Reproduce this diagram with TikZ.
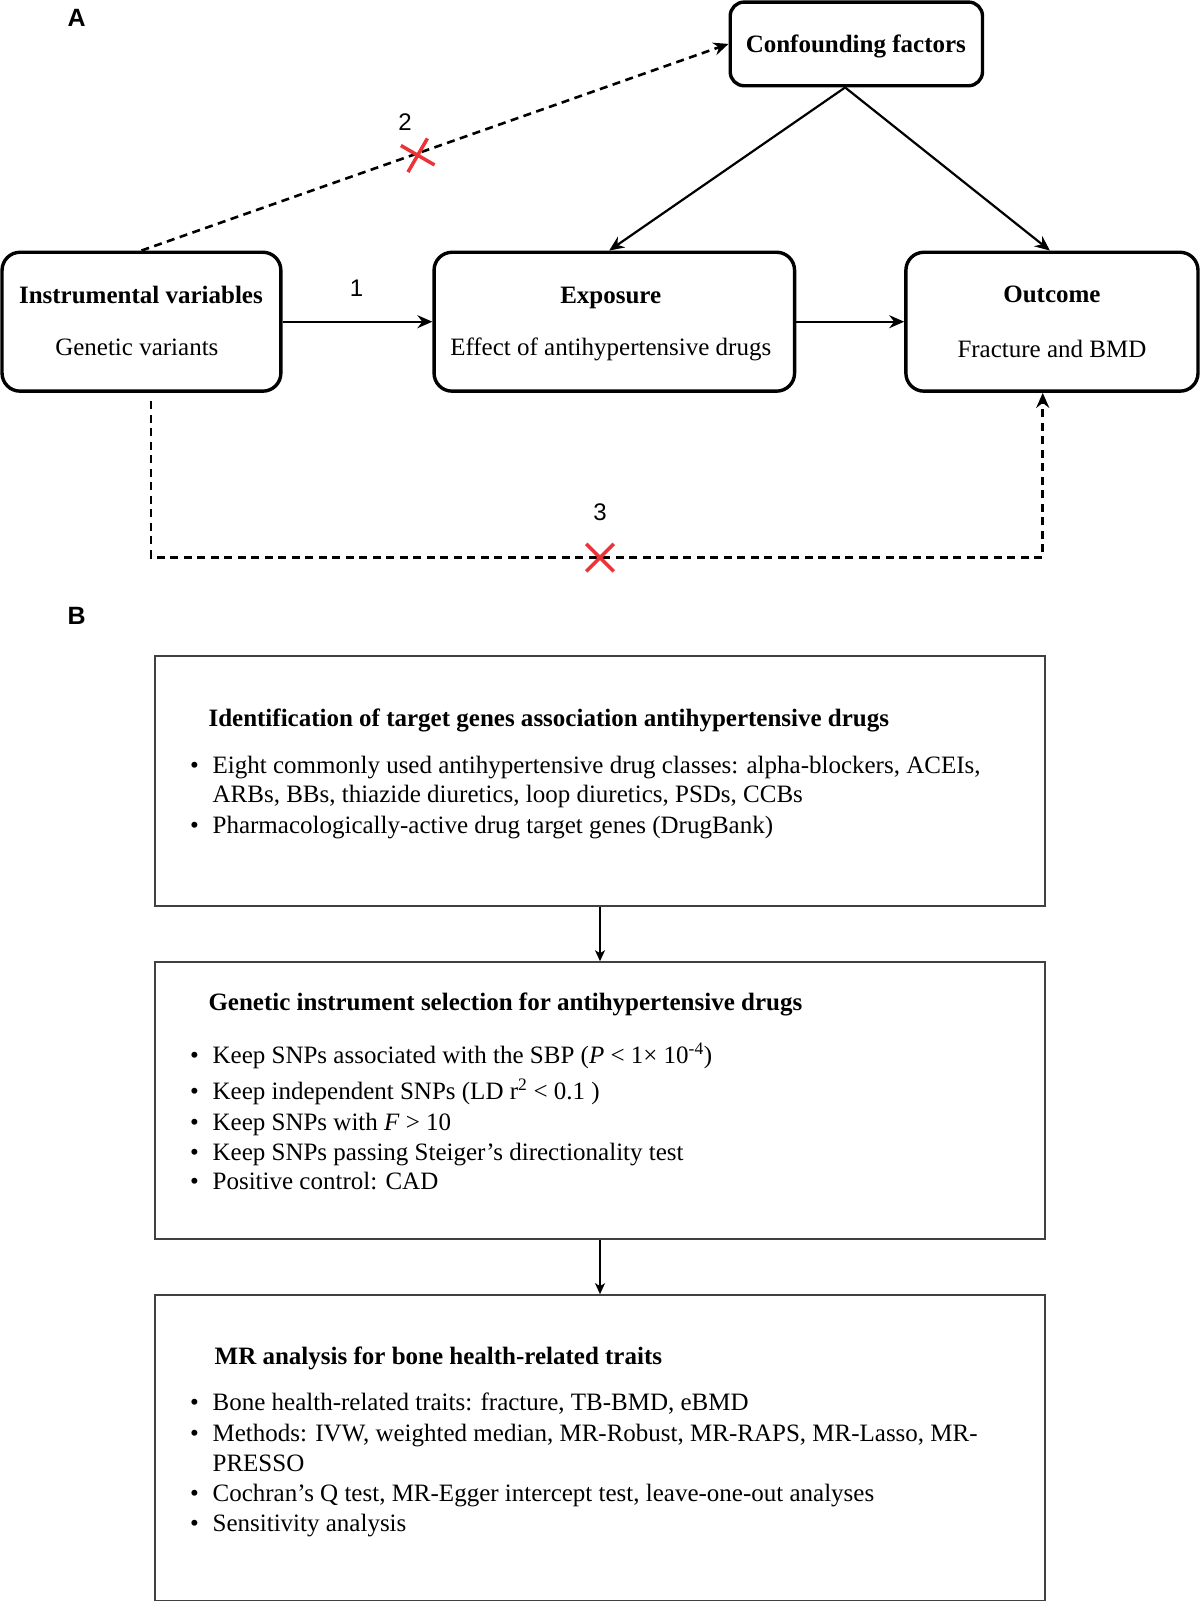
\documentclass[tikz,border=0pt]{standalone}
\usepackage{fontspec}
\setmainfont{Liberation Serif}
\newfontfamily\arialf{Liberation Sans}
\usetikzlibrary{arrows.meta,calc,shapes.misc}
\definecolor{xred}{RGB}{236,52,56}
\begin{document}
\begin{tikzpicture}[x=1.02128pt,y=-1.02128pt,
 rbox/.style={draw, line width=3.4pt, rounded corners=18pt, fill=white, inner sep=0pt},
 fbox/.style={draw=black!75, line width=1.7pt, inner sep=0pt},
 conn/.style={line width=2.2pt, -{Stealth[length=15pt,width=13pt,inset=5pt]}},
 dconn/.style={conn, line width=2.6pt, dash pattern=on 8pt off 5.5pt},
 thinarr/.style={line width=1.3pt, -{Stealth[length=11pt,width=10pt,inset=3pt]}},
 cross/.style={cross out, draw=xred, line width=3.5pt, minimum width=24pt, minimum height=24pt, inner sep=0pt},
 lbl/.style={font=\arialf\bfseries\fontsize{25}{29}\selectfont, anchor=base, inner sep=0pt},
 num/.style={font=\arialf\fontsize{24}{28}\selectfont, anchor=base, inner sep=0pt},
 tx/.style={font=\fontsize{25}{30}\selectfont, inner sep=0pt, anchor=base},
 btx/.style={tx, font=\fontsize{25}{30}\selectfont\bfseries},
 ltx/.style={tx, anchor=base west},
 lbtx/.style={btx, anchor=base west},
 ]
\useasboundingbox (0,0) rectangle (1175,1568.6);

% ---------- Part A ----------
\node[lbl] (lA) at (75,26) {A};

\node[rbox, minimum width=278.8pt, minimum height=138.9pt] (iv) at (138.5,315) {};
\node[rbox, minimum width=360.5pt, minimum height=138.9pt] (ex) at (601.5,315) {};
\node[rbox, minimum width=292.1pt, minimum height=138.9pt] (out) at (1030,315) {};
\node[rbox, minimum width=252.3pt, minimum height=83.7pt, rounded corners=14pt] (cf) at (838.5,43) {};

\node[btx] (ivt) at (138,297) {Instrumental variables};
\node[tx] (ivs) at (134,348) {Genetic variants};
\node[btx] (ext) at (598,297) {Exposure};
\node[tx] (exs) at (598,348) {Effect of antihypertensive drugs};
\node[btx] (outt) at (1030,296) {Outcome};
\node[tx] (outs) at (1030,350) {Fracture and BMD};
\node[btx] (cft) at (838,51) {Confounding factors};

\draw[conn] (iv.east) -- (ex.west);
\draw[conn] (ex.east) -- (out.west);
\draw[conn] ($(cf.south)+(-11,0)$) -- ($(ex.north)+(-5,0)$);
\draw[conn] ($(cf.south)+(-11,0)$) -- ($(out.north)+(-2,0)$);
\node[num] (n1) at (349,290) {1};

\draw[dconn] (iv.north) -- (cf.west);
\node[cross, rotate=15] (x2) at (409,152) {};
\node[num] (n2) at (396.5,128) {2};

\coordinate (c3s) at (148,393);
\coordinate (c3m) at (587.5,546);
\draw[dconn] (c3s) |- (c3m) -| ($(out.south)+(-9,0)$);
\node[cross] (x3) at (587.5,546) {};
\node[num] (n3) at (587.5,509.5) {3};

% ---------- Part B ----------
\node[lbl] (lB) at (75,611) {B};

\node[fbox, minimum width=889.5pt, minimum height=250.2pt] (b1) at (587.5,764.5) {};
\node[fbox, minimum width=889.5pt, minimum height=276.8pt] (b2) at (587.5,1077.5) {};
\node[fbox, minimum width=889.5pt, minimum height=305.4pt] (b3) at (587.5,1417.5) {};

\draw[thinarr] (b1.south) -- (b2.north);
\draw[thinarr] (b2.south) -- (b3.north);

% box 1
\node[lbtx] (t1) at (204,711) {Identification of target genes association antihypertensive drugs};
\node[ltx] (d11) at (186,757) {•};
\node[ltx] (i11) at (208,757) {Eight commonly used antihypertensive drug classes: alpha-blockers, ACEIs,};
\node[ltx] (i11b) at (208,786) {ARBs, BBs, thiazide diuretics, loop diuretics, PSDs, CCBs};
\node[ltx] (d12) at (186,816) {•};
\node[ltx] (i12) at (208,816) {Pharmacologically-active drug target genes (DrugBank)};

% box 2
\node[lbtx] (t2) at (204,989) {Genetic instrument selection for antihypertensive drugs};
\node[ltx] (d21) at (186,1041) {•};
\node[ltx] (i21) at (208,1041) {Keep SNPs associated with the SBP (\textit{P} < 1× 10\textsuperscript{-4})};
\node[ltx] (d22) at (186,1077) {•};
\node[ltx] (i22) at (208,1077) {Keep independent SNPs (LD r\textsuperscript{2} < 0.1 )};
\node[ltx] (d23) at (186,1107) {•};
\node[ltx] (i23) at (208,1107) {Keep SNPs with \textit{F} > 10};
\node[ltx] (d24) at (186,1136) {•};
\node[ltx] (i24) at (208,1136) {Keep SNPs passing Steiger’s directionality test};
\node[ltx] (d25) at (186,1165) {•};
\node[ltx] (i25) at (208,1165) {Positive control: CAD};

% box 3
\node[lbtx] (t3) at (210,1336) {MR analysis for bone health-related traits};
\node[ltx] (d31) at (186,1381) {•};
\node[ltx] (i31) at (208,1381) {Bone health-related traits: fracture, TB-BMD, eBMD};
\node[ltx] (d32) at (186,1411) {•};
\node[ltx] (i32) at (208,1411) {Methods: IVW, weighted median, MR-Robust, MR-RAPS, MR-Lasso, MR-};
\node[ltx] (i32b) at (208,1441) {PRESSO};
\node[ltx] (d33) at (186,1470) {•};
\node[ltx] (i33) at (208,1470) {Cochran’s Q test, MR-Egger intercept test, leave-one-out analyses};
\node[ltx] (d34) at (186,1500) {•};
\node[ltx] (i34) at (208,1500) {Sensitivity analysis};
\end{tikzpicture}
\end{document}
